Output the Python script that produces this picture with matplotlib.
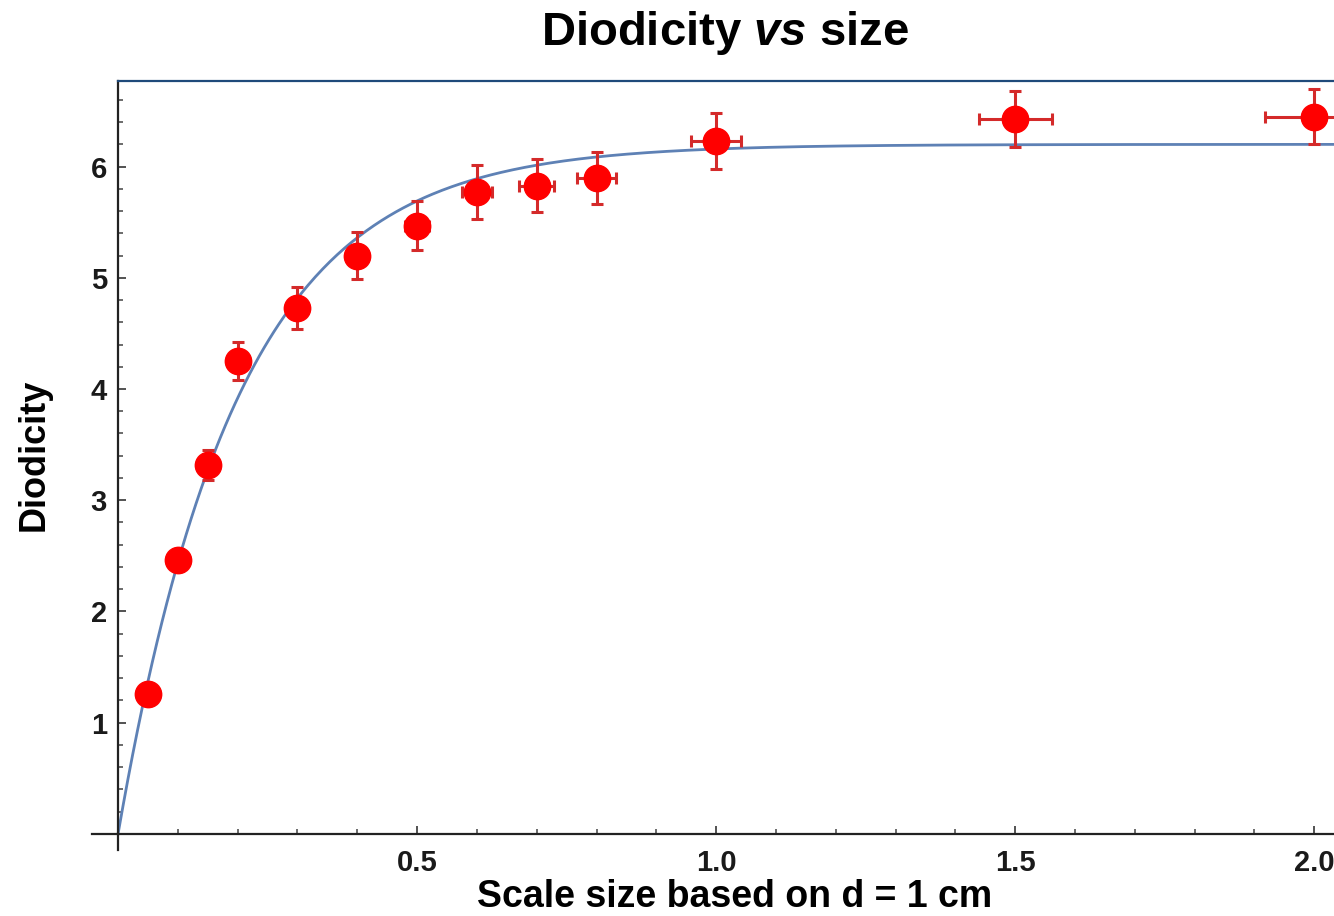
import numpy as np
import matplotlib
matplotlib.use("Agg")
import matplotlib.pyplot as plt
from matplotlib.ticker import FixedLocator, MultipleLocator, FormatStrFormatter

plt.rcParams.update({
    "font.family": ["Liberation Sans", "DejaVu Sans"],
    "font.weight": "bold",
    "mathtext.fontset": "custom",
    "mathtext.rm": "Liberation Sans:bold",
    "mathtext.it": "Liberation Sans:italic:bold",
    "mathtext.bf": "Liberation Sans:bold",
})

# measured points (scale size vs diodicity)
scale = [0.05, 0.10, 0.15, 0.20, 0.30, 0.40, 0.50, 0.60, 0.70, 0.80, 1.00, 1.50, 2.00]
diodicity = [1.26, 2.46, 3.32, 4.25, 4.73, 5.20, 5.47, 5.77, 5.83, 5.90, 6.23, 6.43, 6.45]
scale_err = [0.002, 0.004, 0.006, 0.008, 0.012, 0.016, 0.020, 0.025, 0.029, 0.033, 0.042, 0.061, 0.082]
diod_err = [0.05, 0.10, 0.135, 0.17, 0.19, 0.21, 0.22, 0.24, 0.24, 0.235, 0.25, 0.25, 0.25]

# fitted model  D = A * (1 - exp(-k * s))
fit_amp = 6.2
fit_rate = 5.0

X_MIN, X_MAX = -0.0435, 2.033
Y_MIN, Y_MAX = -0.145, 6.77

fig = plt.figure(figsize=(13.34, 9.16), dpi=100)
ax = fig.add_axes([0.069, 0.0721, 0.931, 0.8395])

xs = np.linspace(0, X_MAX, 500)
ax.plot(xs, fit_amp * (1 - np.exp(-fit_rate * xs)), color="#5E81B5", lw=2.0, zorder=2)

ax.errorbar(scale, diodicity, xerr=scale_err, yerr=diod_err, fmt="o", ms=19,
            mfc="#FF0000", mec="#FF0000", ecolor="#D42A2A", elinewidth=2.2,
            capsize=4.5, capthick=2.2, zorder=3)

ax.set_xlim(X_MIN, X_MAX)
ax.set_ylim(Y_MIN, Y_MAX)

# Mathematica-like axes through the origin
ax.spines["left"].set_position(("data", 0))
ax.spines["bottom"].set_position(("data", 0))
ax.spines["right"].set_visible(False)
ax.spines["top"].set_color("#1F4A7A")
ax.spines["top"].set_linewidth(1.6)
ax.spines["top"].set_bounds(0, X_MAX)
for side in ("left", "bottom"):
    ax.spines[side].set_color("#222222")
    ax.spines[side].set_linewidth(1.6)

ax.xaxis.set_major_locator(FixedLocator([0.5, 1.0, 1.5, 2.0]))
ax.xaxis.set_major_formatter(FormatStrFormatter("%.1f"))
ax.xaxis.set_minor_locator(MultipleLocator(0.1))
ax.yaxis.set_major_locator(FixedLocator([1, 2, 3, 4, 5, 6]))
ax.yaxis.set_major_formatter(FormatStrFormatter("%d"))
ax.yaxis.set_minor_locator(MultipleLocator(0.2))

ax.tick_params(which="major", direction="in", length=6, width=1.3,
               color="#444444", labelsize=21, labelcolor="#1a1a1a")
ax.tick_params(which="minor", direction="in", length=3.5, width=1.1, color="#444444")
ax.tick_params(axis="x", which="major", pad=11)
ax.tick_params(axis="y", which="major", pad=8)
ax.tick_params(top=False, right=False, which="both")

ax.set_xlabel("Scale size based on d = 1 cm", fontsize=27, fontweight="bold")
ax.xaxis.label.set_va("baseline")
ax.xaxis.set_label_coords(0.517, -0.0742)
ax.set_ylabel("Diodicity", fontsize=26, fontweight="bold")
ax.yaxis.label.set_va("center")
ax.yaxis.set_label_coords(-0.047, 0.514)

fig.text(725 / 1334, 1 - 45 / 916, r"Diodicity $\mathit{vs}$ size",
         ha="center", va="baseline", fontsize=34, fontweight="bold")

fig.savefig("out.png", dpi=100)
